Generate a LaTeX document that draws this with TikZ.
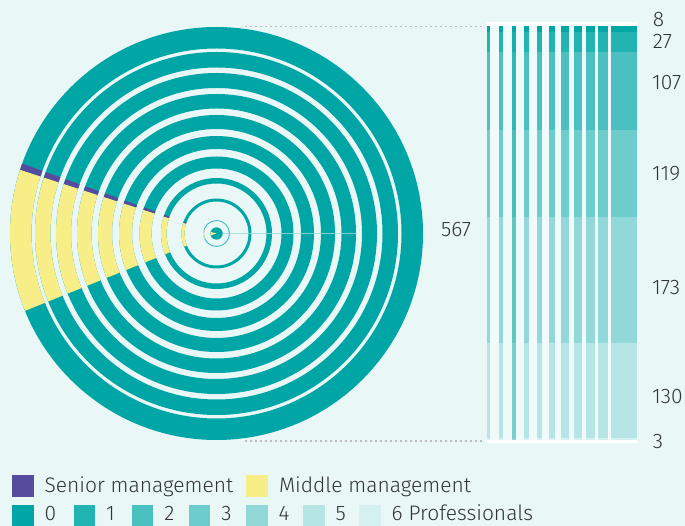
\documentclass[tikz,border=0pt]{standalone}
\usepackage{fontspec}
\setmainfont{Fira Sans}[UprightFont=* Light]
\definecolor{bg}{HTML}{EAF7F7}
\definecolor{lv0}{HTML}{00A6A6}
\definecolor{lv1}{HTML}{22B3B3}
\definecolor{lv2}{HTML}{4AC0C0}
\definecolor{lv3}{HTML}{6DCDCD}
\definecolor{lv4}{HTML}{92D8D8}
\definecolor{lv5}{HTML}{B6E5E5}
\definecolor{lv6}{HTML}{D4F0F0}
\definecolor{yel}{HTML}{F8EE88}
\definecolor{pur}{HTML}{564C9D}
\definecolor{txt}{HTML}{333333}
\definecolor{gapc}{HTML}{F1FAFA}
\definecolor{seamc}{HTML}{9ADADA}
\definecolor{dotgray}{HTML}{BDBDBD}
\begin{document}
\begin{tikzpicture}[x=1pt,y=-1pt,
  lbl/.style={text=txt, font=\fontsize{21}{24}\selectfont, inner sep=0pt, anchor=base west},
  dotline/.style={draw=dotgray, line width=1.3pt, dash pattern=on 2.4pt off 2.6pt},
  sq/.style={inner sep=0pt, minimum width=21.7pt, minimum height=21.7pt, anchor=north west}]
\fill[bg] (0,0) rectangle (685,526);
\useasboundingbox (0,0) rectangle (685,526);

% concentric rings
\begin{scope}[shift={(216.5,233.5)},yscale=-1]
\foreach \ri/\ro in {185/206.5,166/181.5,145.5/160.5,125/139.5,104.5/118.5,84.5/97.5,65/77,50/55.5,32/35}{
  \fill[lv0,even odd rule] (0,0) circle[radius=\ro] (0,0) circle[radius=\ri];
  \fill[yel] (162:\ro) arc[start angle=162,end angle=202,radius=\ro] -- (202:\ri) arc[start angle=202,end angle=162,radius=\ri] -- cycle;
  \fill[pur] (160.2:\ro) arc[start angle=160.2,end angle=162,radius=\ro] -- (162:\ri) arc[start angle=162,end angle=160.2,radius=\ri] -- cycle;
}
\draw[lv0!75, line width=0.9pt] (0,0) circle[radius=13];
\draw[yel, line width=0.9pt] (162:13) arc[start angle=162,end angle=202,radius=13];
\fill[lv0] (0,0) circle[radius=6.2];
\fill[yel] (0,0) -- (165:6.2) arc[start angle=165,end angle=198,radius=6.2] -- cycle;
\draw[seamc, line width=0.4pt, opacity=0.8] (6.2,0) -- (140,0);
\end{scope}

% dotted guide lines
\coordinate (ctop) at (245,26.7);
\coordinate (btop) at (483.5,26.7);
\coordinate (cbot) at (245,441);
\coordinate (bbot) at (483.5,441);
\draw[dotline] (ctop) -- (btop);
\draw[dotline] (cbot) -- (bbot);

% striped bar
\fill[white] (486.7,22) rectangle (636.7,443.3);
\fill[gapc] (486.7,26) rectangle (636.7,440);
\foreach \xa/\xb in {486.7/490,499.3/503.3,512/516,524.3/529,536.7/542.3,548.7/555.3,561/569,573.7/582,586/595,598.3/608,610.7/636.7}{
  \foreach \k/\ya/\yb in {0/26/31.8,1/31.8/51.6,2/51.6/129.7,3/129.7/216.6,4/216.6/342.9,5/342.9/437.8,6/437.8/440}{
    \fill[lv\k] (\xa,\ya) rectangle (\xb,\yb);
  }
}
\fill[lv0, opacity=0.35] (512,26) rectangle (516,440);

% value labels
\node[lbl] (v8) at (652.7,26.7) {8};
\node[lbl] (v27) at (652.7,48.3) {27};
\node[lbl] (v107) at (652,90) {107};
\node[lbl] (v119) at (652,180.5) {119};
\node[lbl] (v173) at (652,294.5) {173};
\node[lbl] (v130) at (652,403.3) {130};
\node[lbl] (v3) at (652.7,448) {3};
\node[lbl] (vtot) at (441,236.5) {567};

% legend
\node[sq, fill=pur] (sqS) at (11.6,475) {};
\node[lbl] (lgS) at (44.3,492.3) {Senior management};
\node[sq, fill=yel] (sqM) at (246.2,475) {};
\node[lbl] (lgM) at (278.8,492.3) {Middle management};
\foreach \k/\xs in {0/11.6,1/73.3,2/131.4,3/188.5,4/245.6,5/302.7,6/358.8}{
  \node[sq, fill=lv\k] (sq\k) at (\xs,504.3) {};
}
\node[lbl] (lg0) at (44.3,520) {0};
\node[lbl] (lg1) at (106,520) {1};
\node[lbl] (lg2) at (164.1,520) {2};
\node[lbl] (lg3) at (221.2,520) {3};
\node[lbl] (lg4) at (278.3,520) {4};
\node[lbl] (lg5) at (335.4,520) {5};
\node[lbl] (lg6) at (391.5,520) {6 Professionals};
\end{tikzpicture}
\end{document}
